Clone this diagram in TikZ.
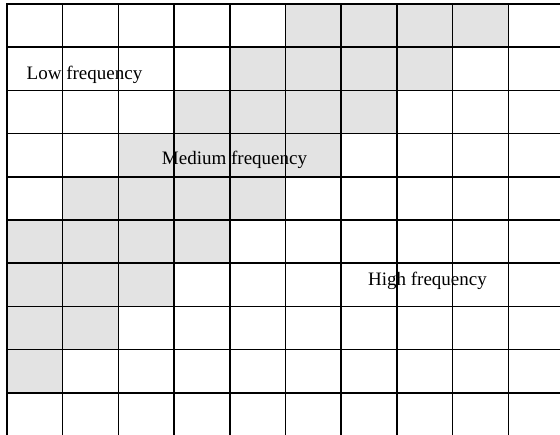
\documentclass[tikz,border=0pt]{standalone}
\usepackage{fontspec}
\setmainfont{Liberation Serif}
\definecolor{cellgray}{HTML}{E3E3E3}
\tikzset{
  cellfill/.style={fill=cellgray},
  gridline/.style={draw=black, line width=1.5pt, line cap=rect},
  label/.style={anchor=base, inner sep=0pt, font=\fontsize{19}{22}\selectfont}
}
\begin{document}
\begin{tikzpicture}[x=1pt,y=-1pt]
\useasboundingbox (0,0) rectangle (560,435);
\clip (0,0) rectangle (560,435);
\fill[white] (0,0) rectangle (560,435);
% shaded band
\foreach \r/\a/\b in {0/5/9, 1/4/8, 2/3/7, 3/2/6, 4/1/5, 5/0/4, 6/0/3, 7/0/2, 8/0/1}
  \fill[cellfill] ({7+55.7*\a},{4+43.2*\r}) rectangle ({7+55.7*\b},{4+43.2*(\r+1)});
% labels
\node[label] (low) at (84.5,80) {Low frequency};
\node[label] (mid) at (234.5,165) {Medium frequency};
\node[label] (high) at (427.5,286) {High frequency};
% grid
\foreach \i in {0,...,9}
  \draw[gridline] ({7+55.7*\i},4) -- ({7+55.7*\i},440);
\foreach \j in {0,...,9}
  \draw[gridline] (7,{4+43.2*\j}) -- (565,{4+43.2*\j});
\end{tikzpicture}
\end{document}
